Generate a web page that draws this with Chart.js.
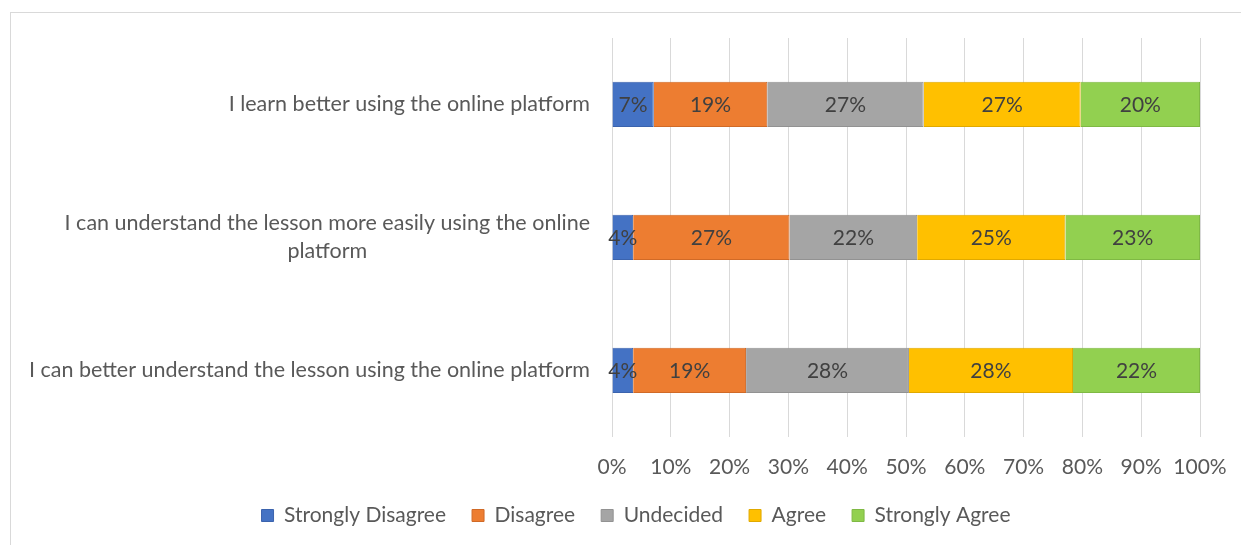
<!DOCTYPE html>
<html>
<head>
<meta charset="utf-8">
<script src="https://cdn.jsdelivr.net/npm/chart.js@4"></script>
<style>
  body { margin: 0; background: #fff; }
  #frame { position: absolute; left: 10px; top: 12px; width: 1240px; height: 545px; border: 1px solid #d9d9d9; box-sizing: border-box; }
  #wrap { position: absolute; left: 0; top: 0; width: 1241px; height: 545px; }
</style>
</head>
<body>
<div id="frame"></div>
<div id="wrap"><canvas id="grafico"></canvas></div>
<script>
// preguntas de la encuesta (una fila por pregunta)
const preguntas = [
    ['I learn better using the online platform'],
    ['I can understand the lesson more easily using the online', 'platform'],
    ['I can better understand the lesson using the online platform']
];
const respuestas = ['Strongly Disagree', 'Disagree', 'Undecided', 'Agree', 'Strongly Agree'];
const colores = ['#4472C4', '#ED7D31', '#A5A5A5', '#FFC000', '#92D050'];
const bordes = ['#3b63ad', '#d06a27', '#929292', '#e0a900', '#7fb944'];

// porcentajes por respuesta, en el orden de las preguntas
const muyDesacuerdo = [7.1, 3.6, 3.6];
const desacuerdo = [19.3, 26.6, 19.2];
const indeciso = [26.6, 21.7, 27.7];
const deAcuerdo = [26.7, 25.2, 27.9];
const muyDeAcuerdo = [20.3, 22.9, 21.6];
const serie = [muyDesacuerdo, desacuerdo, indeciso, deAcuerdo, muyDeAcuerdo];

const ticksX = [0, 10, 20, 30, 40, 50, 60, 70, 80, 90, 100];

const FUENTE = 'Lato, "Open Sans", sans-serif';
const GRIS_TEXTO = '#595959';
const TAM = 21;

// etiquetas de porcentaje dentro de cada tramo
const etiquetasValor = {
    id: 'etiquetasValor',
    afterDatasetsDraw(chart) {
        const ctx = chart.ctx;
        ctx.save();
        ctx.font = TAM + 'px ' + FUENTE;
        ctx.fillStyle = '#404040';
        ctx.textAlign = 'center';
        ctx.textBaseline = 'middle';
        chart.data.datasets.forEach((ds, i) => {
            chart.getDatasetMeta(i).data.forEach((bar, j) => {
                const x = (bar.x + bar.base) / 2;
                ctx.fillText(Math.round(ds.data[j]) + '%', x, bar.y + 1);
            });
        });
        ctx.restore();
    }
};

// textos del eje Y: bloque alineado a la derecha, líneas centradas entre sí
const etiquetasPreguntas = {
    id: 'etiquetasPreguntas',
    afterDraw(chart) {
        const ctx = chart.ctx;
        const escala = chart.scales.y;
        const derecha = chart.chartArea.left - 22;
        ctx.save();
        ctx.font = '21.5px ' + FUENTE;
        ctx.fillStyle = GRIS_TEXTO;
        ctx.textAlign = 'center';
        ctx.textBaseline = 'middle';
        const alto = 28;
        preguntas.forEach((lineas, i) => {
            const ancho = Math.max(...lineas.map(l => ctx.measureText(l).width));
            const cx = derecha - ancho / 2;
            const cy = escala.getPixelForValue(i) - (lineas.length - 1) * alto / 2;
            lineas.forEach((l, k) => ctx.fillText(l, cx, cy + k * alto));
        });
        ctx.restore();
    }
};

const ctx = document.getElementById('grafico').getContext('2d');
new Chart(ctx, {
    type: 'bar',
    data: {
        labels: preguntas.map(p => p.join(' ')),
        datasets: respuestas.map((r, i) => ({
            label: r,
            data: serie[i],
            backgroundColor: colores[i],
            borderColor: bordes[i],
            borderWidth: 1,
            barPercentage: 0.34,
            categoryPercentage: 1
        }))
    },
    options: {
        indexAxis: 'y',
        responsive: true,
        maintainAspectRatio: false,
        animation: false,
        layout: { padding: { top: 38, right: 41, bottom: 9, left: 72 } },
        scales: {
            x: {
                stacked: true,
                min: 0,
                max: 100,
                afterBuildTicks: (s) => { s.ticks = ticksX.map(v => ({ value: v })); },
                afterFit: (s) => {
                    s.height -= 19;
                    s.paddingLeft = 0;
                    s.paddingRight = 0;
                },
                grid: { color: '#d9d9d9', lineWidth: 1, drawTicks: false },
                border: { display: false },
                ticks: {
                    padding: 18,
                    maxRotation: 0,
                    minRotation: 0,
                    autoSkip: false,
                    color: GRIS_TEXTO,
                    font: { family: FUENTE, size: TAM },
                    callback: v => v + '%'
                }
            },
            y: {
                stacked: true,
                grid: { display: false },
                border: { display: false },
                ticks: { display: false },
                afterFit: (s) => { s.width = 540; }
            }
        },
        plugins: {
            legend: {
                position: 'bottom',
                labels: {
                    boxWidth: 12,
                    boxHeight: 12,
                    padding: 26,
                    color: GRIS_TEXTO,
                    font: { family: FUENTE, size: TAM }
                }
            },
            tooltip: { enabled: false }
        }
    },
    plugins: [etiquetasValor, etiquetasPreguntas]
});
</script>
</body>
</html>
